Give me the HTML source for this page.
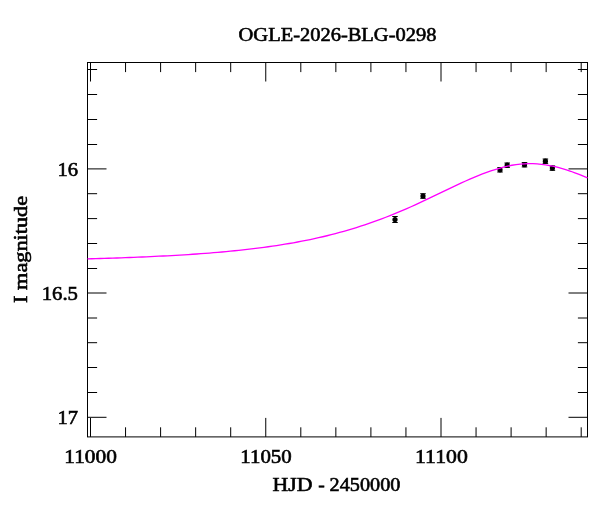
<!DOCTYPE html>
<html><head><meta charset="utf-8"><style>
html,body{margin:0;padding:0;background:#fff;}
body{width:600px;height:512px;overflow:hidden;}
svg{display:block;}
text{font-family:"Liberation Serif",serif;fill:#000;stroke:#000;stroke-width:0.6px;}
</style></head><body>
<svg width="600" height="512" viewBox="0 0 600 512">
<rect width="600" height="512" fill="#fff"/>
<text x="337.5" y="41.3" font-size="19.5" text-anchor="middle" textLength="197.8" lengthAdjust="spacingAndGlyphs">OGLE-2026-BLG-0298</text>
<g stroke="#000" stroke-width="1" fill="none">
<line x1="90.50" y1="436.9" x2="90.50" y2="417.9"/>
<line x1="90.50" y1="62.5" x2="90.50" y2="81.5"/>
<line x1="125.55" y1="436.9" x2="125.55" y2="427.29999999999995"/>
<line x1="125.55" y1="62.5" x2="125.55" y2="72.1"/>
<line x1="160.60" y1="436.9" x2="160.60" y2="427.29999999999995"/>
<line x1="160.60" y1="62.5" x2="160.60" y2="72.1"/>
<line x1="195.65" y1="436.9" x2="195.65" y2="427.29999999999995"/>
<line x1="195.65" y1="62.5" x2="195.65" y2="72.1"/>
<line x1="230.70" y1="436.9" x2="230.70" y2="427.29999999999995"/>
<line x1="230.70" y1="62.5" x2="230.70" y2="72.1"/>
<line x1="265.75" y1="436.9" x2="265.75" y2="417.9"/>
<line x1="265.75" y1="62.5" x2="265.75" y2="81.5"/>
<line x1="300.80" y1="436.9" x2="300.80" y2="427.29999999999995"/>
<line x1="300.80" y1="62.5" x2="300.80" y2="72.1"/>
<line x1="335.85" y1="436.9" x2="335.85" y2="427.29999999999995"/>
<line x1="335.85" y1="62.5" x2="335.85" y2="72.1"/>
<line x1="370.90" y1="436.9" x2="370.90" y2="427.29999999999995"/>
<line x1="370.90" y1="62.5" x2="370.90" y2="72.1"/>
<line x1="405.95" y1="436.9" x2="405.95" y2="427.29999999999995"/>
<line x1="405.95" y1="62.5" x2="405.95" y2="72.1"/>
<line x1="441.00" y1="436.9" x2="441.00" y2="417.9"/>
<line x1="441.00" y1="62.5" x2="441.00" y2="81.5"/>
<line x1="476.05" y1="436.9" x2="476.05" y2="427.29999999999995"/>
<line x1="476.05" y1="62.5" x2="476.05" y2="72.1"/>
<line x1="511.10" y1="436.9" x2="511.10" y2="427.29999999999995"/>
<line x1="511.10" y1="62.5" x2="511.10" y2="72.1"/>
<line x1="546.15" y1="436.9" x2="546.15" y2="427.29999999999995"/>
<line x1="546.15" y1="62.5" x2="546.15" y2="72.1"/>
<line x1="581.20" y1="436.9" x2="581.20" y2="427.29999999999995"/>
<line x1="581.20" y1="62.5" x2="581.20" y2="72.1"/>
<line x1="87.5" y1="69.50" x2="97.1" y2="69.50"/>
<line x1="587.5" y1="69.50" x2="577.9" y2="69.50"/>
<line x1="87.5" y1="94.50" x2="97.1" y2="94.50"/>
<line x1="587.5" y1="94.50" x2="577.9" y2="94.50"/>
<line x1="87.5" y1="119.50" x2="97.1" y2="119.50"/>
<line x1="587.5" y1="119.50" x2="577.9" y2="119.50"/>
<line x1="87.5" y1="144.50" x2="97.1" y2="144.50"/>
<line x1="587.5" y1="144.50" x2="577.9" y2="144.50"/>
<line x1="87.5" y1="168.90" x2="106.5" y2="168.90"/>
<line x1="587.5" y1="168.90" x2="568.5" y2="168.90"/>
<line x1="87.5" y1="193.70" x2="97.1" y2="193.70"/>
<line x1="587.5" y1="193.70" x2="577.9" y2="193.70"/>
<line x1="87.5" y1="218.60" x2="97.1" y2="218.60"/>
<line x1="587.5" y1="218.60" x2="577.9" y2="218.60"/>
<line x1="87.5" y1="243.50" x2="97.1" y2="243.50"/>
<line x1="587.5" y1="243.50" x2="577.9" y2="243.50"/>
<line x1="87.5" y1="268.50" x2="97.1" y2="268.50"/>
<line x1="587.5" y1="268.50" x2="577.9" y2="268.50"/>
<line x1="87.5" y1="293.00" x2="106.5" y2="293.00"/>
<line x1="587.5" y1="293.00" x2="568.5" y2="293.00"/>
<line x1="87.5" y1="318.00" x2="97.1" y2="318.00"/>
<line x1="587.5" y1="318.00" x2="577.9" y2="318.00"/>
<line x1="87.5" y1="342.70" x2="97.1" y2="342.70"/>
<line x1="587.5" y1="342.70" x2="577.9" y2="342.70"/>
<line x1="87.5" y1="367.50" x2="97.1" y2="367.50"/>
<line x1="587.5" y1="367.50" x2="577.9" y2="367.50"/>
<line x1="87.5" y1="392.50" x2="97.1" y2="392.50"/>
<line x1="587.5" y1="392.50" x2="577.9" y2="392.50"/>
<line x1="87.5" y1="417.30" x2="106.5" y2="417.30"/>
<line x1="587.5" y1="417.30" x2="568.5" y2="417.30"/>
</g>
<rect x="87.5" y="62.5" width="500.0" height="374.4" fill="none" stroke="#000" stroke-width="1"/>
<g fill="#000">
<circle cx="395" cy="219.5" r="2.6"/>
<path d="M392.25,216.5 h5.5 M392.25,222.5 h5.5 M395,216.5 V222.5" fill="none" stroke="#000" stroke-width="1"/>
<circle cx="423" cy="196" r="2.6"/>
<path d="M420.25,193.7 h5.5 M420.25,198.3 h5.5 M423,193.7 V198.3" fill="none" stroke="#000" stroke-width="1"/>
<circle cx="500" cy="169.8" r="2.6"/>
<path d="M497.25,167.60000000000002 h5.5 M497.25,172.0 h5.5 M500,167.60000000000002 V172.0" fill="none" stroke="#000" stroke-width="1"/>
<circle cx="507.2" cy="165.2" r="2.6"/>
<path d="M504.45,163.0 h5.5 M504.45,167.39999999999998 h5.5 M507.2,163.0 V167.39999999999998" fill="none" stroke="#000" stroke-width="1"/>
<circle cx="524.5" cy="164.75" r="2.6"/>
<path d="M521.75,162.55 h5.5 M521.75,166.95 h5.5 M524.5,162.55 V166.95" fill="none" stroke="#000" stroke-width="1"/>
<circle cx="545.4" cy="161.2" r="2.6"/>
<path d="M542.65,159.0 h5.5 M542.65,163.39999999999998 h5.5 M545.4,159.0 V163.39999999999998" fill="none" stroke="#000" stroke-width="1"/>
<circle cx="552.4" cy="168.1" r="2.6"/>
<path d="M549.65,165.9 h5.5 M549.65,170.29999999999998 h5.5 M552.4,165.9 V170.29999999999998" fill="none" stroke="#000" stroke-width="1"/>
</g>
<path d="M87.50,258.88 L91.70,258.77 L95.90,258.65 L100.11,258.52 L104.31,258.40 L108.51,258.26 L112.71,258.13 L116.91,257.98 L121.11,257.83 L125.32,257.68 L129.52,257.52 L133.72,257.35 L137.92,257.18 L142.12,257.00 L146.32,256.81 L150.53,256.62 L154.73,256.42 L158.93,256.21 L163.13,256.00 L167.33,255.78 L171.53,255.55 L175.74,255.32 L179.94,255.07 L184.14,254.81 L188.34,254.55 L192.54,254.27 L196.74,253.98 L200.95,253.68 L205.15,253.37 L209.35,253.04 L213.55,252.70 L217.75,252.35 L221.95,251.98 L226.16,251.59 L230.36,251.19 L234.56,250.77 L238.76,250.34 L242.96,249.89 L247.16,249.42 L251.37,248.93 L255.57,248.42 L259.77,247.89 L263.97,247.33 L268.17,246.76 L272.37,246.16 L276.58,245.53 L280.78,244.88 L284.98,244.21 L289.18,243.50 L293.38,242.77 L297.58,242.01 L301.79,241.21 L305.99,240.39 L310.19,239.53 L314.39,238.64 L318.59,237.71 L322.79,236.75 L327.00,235.75 L331.20,234.71 L335.40,233.62 L339.60,232.49 L343.80,231.32 L348.00,230.11 L352.21,228.86 L356.41,227.56 L360.61,226.22 L364.81,224.84 L369.01,223.41 L373.21,221.94 L377.42,220.42 L381.62,218.86 L385.82,217.25 L390.02,215.60 L394.22,213.91 L398.42,212.17 L402.63,210.39 L406.83,208.57 L411.03,206.72 L415.23,204.83 L419.43,202.89 L423.63,200.92 L427.84,198.93 L432.04,196.92 L436.24,194.90 L440.44,192.88 L444.64,190.86 L448.84,188.84 L453.05,186.84 L457.25,184.86 L461.45,182.91 L465.65,181.01 L469.85,179.16 L474.05,177.34 L478.26,175.59 L482.46,173.92 L486.66,172.35 L490.86,170.88 L495.06,169.52 L499.26,168.26 L503.47,167.12 L507.67,166.11 L511.87,165.25 L516.07,164.57 L520.27,164.09 L524.47,163.78 L528.68,163.63 L532.88,163.68 L537.08,163.91 L541.28,164.30 L545.48,164.85 L549.68,165.57 L553.89,166.43 L558.09,167.44 L562.29,168.59 L566.49,169.87 L570.69,171.26 L574.89,172.77 L579.10,174.37 L583.30,176.07 L587.50,177.83" fill="none" stroke="#ff00ff" stroke-width="1.3"/>
<g font-size="19.2" text-anchor="end">
<text x="78" y="176" textLength="20.6" lengthAdjust="spacingAndGlyphs">16</text>
<text x="78" y="300.3" textLength="36.3" lengthAdjust="spacingAndGlyphs">16.5</text>
<text x="78" y="424" textLength="20.6" lengthAdjust="spacingAndGlyphs">17</text>
</g>
<g font-size="19.2" text-anchor="middle">
<text x="90.60" y="462.9" textLength="52.6" lengthAdjust="spacingAndGlyphs">11000</text>
<text x="266.00" y="462.9" textLength="51.4" lengthAdjust="spacingAndGlyphs">11050</text>
<text x="441.40" y="462.9" textLength="52.8" lengthAdjust="spacingAndGlyphs">11100</text>
</g>
<text y="491.1" font-size="19.5"><tspan x="272.6" textLength="40.0" lengthAdjust="spacingAndGlyphs">HJD</tspan> <tspan x="318.2">-</tspan> <tspan x="329.6" textLength="70.8" lengthAdjust="spacingAndGlyphs">2450000</tspan></text>
<text transform="translate(26.9,249.4) rotate(-90)" font-size="19.5" text-anchor="middle" textLength="107.0" lengthAdjust="spacingAndGlyphs">I magnitude</text>
</svg>
</body></html>
